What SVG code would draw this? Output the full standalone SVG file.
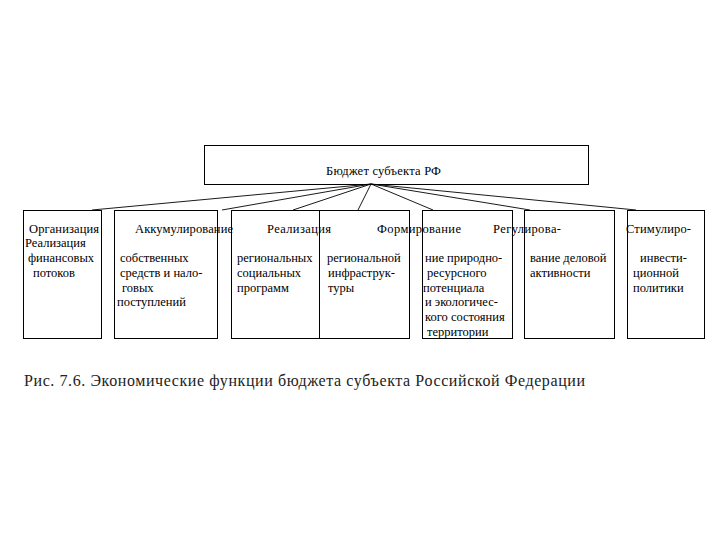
<svg xmlns="http://www.w3.org/2000/svg" width="720" height="540" viewBox="0 0 720 540">
<style>
.box{fill:none;stroke:#000;stroke-width:1}
.t{font-family:'Liberation Serif','DejaVu Serif','Times New Roman',serif;font-size:12.5px;fill:#000}
.cap{font-family:'Liberation Serif','DejaVu Serif','Times New Roman',serif;font-size:16px;fill:#222}
.c{stroke:#000;stroke-width:0.9;fill:none}
</style>
<rect width="720" height="540" fill="#fff"/>
<g id="connectors">
<line class="c" x1="371" y1="184" x2="92" y2="210"/>
<line class="c" x1="371" y1="184" x2="222" y2="210"/>
<line class="c" x1="371" y1="184" x2="293" y2="210"/>
<line class="c" x1="371" y1="184" x2="358" y2="210"/>
<line class="c" x1="371" y1="184" x2="433" y2="210"/>
<line class="c" x1="371" y1="184" x2="530" y2="210"/>
<line class="c" x1="371" y1="184" x2="636" y2="210"/>
</g>
<g id="root">
<rect class="box" x="204.5" y="145.5" width="384" height="39"/>
<text class="t" x="326" y="175" textLength="115">Бюджет субъекта РФ</text>
</g>
<g id="n1">
<rect class="box" x="23.5" y="210.5" width="78" height="128"/>
<text class="t" x="29" y="233" textLength="70">Организация</text>
<text class="t" x="25" y="247">Реализация</text>
<text class="t" x="28" y="262">финансовых</text>
<text class="t" x="33" y="277">потоков</text>
</g>
<g id="n2">
<rect class="box" x="114.5" y="210.5" width="103" height="128"/>
<text class="t" x="135" y="233" textLength="98">Аккумулирование</text>
<text class="t" x="120" y="262">собственных</text>
<text class="t" x="120" y="277">средств и нало-</text>
<text class="t" x="122" y="292">говых</text>
<text class="t" x="117" y="306">поступлений</text>
</g>
<g id="n3">
<rect class="box" x="231.5" y="210.5" width="88" height="128"/>
<text class="t" x="267" y="233" textLength="64">Реализация</text>
<text class="t" x="237" y="262">региональных</text>
<text class="t" x="237" y="277">социальных</text>
<text class="t" x="237" y="292">программ</text>
</g>
<g id="n4">
<rect class="box" x="319.5" y="210.5" width="90" height="128"/>
<text class="t" x="377" y="233" textLength="84">Формирование</text>
<text class="t" x="327" y="262">региональной</text>
<text class="t" x="328" y="277">инфраструк-</text>
<text class="t" x="328" y="292">туры</text>
</g>
<g id="n5">
<rect class="box" x="422.5" y="210.5" width="90" height="128"/>
<text class="t" x="425" y="262">ние природно-</text>
<text class="t" x="427" y="277">ресурсного</text>
<text class="t" x="423" y="292">потенциала</text>
<text class="t" x="425" y="306">и экологичес-</text>
<text class="t" x="425" y="321">кого состояния</text>
<text class="t" x="427" y="336">территории</text>
</g>
<g id="n6">
<rect class="box" x="524.5" y="210.5" width="90" height="128"/>
<text class="t" x="493" y="233" textLength="68">Регулирова-</text>
<text class="t" x="530" y="262">вание деловой</text>
<text class="t" x="530" y="277">активности</text>
</g>
<g id="n7">
<rect class="box" x="627.5" y="210.5" width="77" height="128"/>
<text class="t" x="626" y="233" textLength="65">Стимулиро-</text>
<text class="t" x="640" y="262">инвести-</text>
<text class="t" x="633" y="277">ционной</text>
<text class="t" x="633" y="292">политики</text>
</g>
<text class="cap" x="24" y="386" textLength="561">Рис. 7.6. Экономические функции бюджета субъекта Российской Федерации</text>
</svg>
